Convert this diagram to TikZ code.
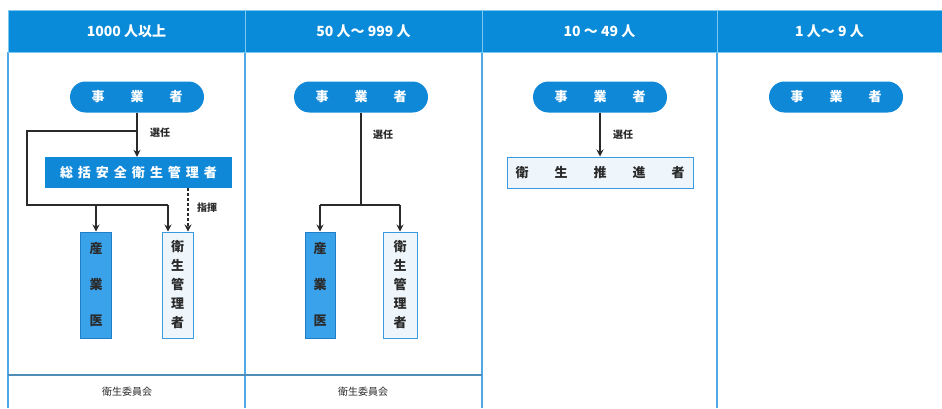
\documentclass[tikz,border=0pt]{standalone}
\usepackage{fontspec}
\newfontfamily\jp{Noto Sans CJK JP}
\usetikzlibrary{arrows.meta}
\definecolor{hdr}{HTML}{0A8BD9}
\definecolor{hdrline}{HTML}{7CC8F2}
\definecolor{colline}{HTML}{4FA9E6}
\definecolor{rowline}{HTML}{4E8DB8}
\definecolor{pillblue}{HTML}{1088D8}
\definecolor{docblue}{HTML}{3AA2EA}
\definecolor{docedge}{HTML}{1E7FC6}
\definecolor{palefill}{HTML}{EEF6FC}
\definecolor{paleedge}{HTML}{3A9AE0}
\definecolor{ink}{HTML}{2A2A2A}
\newcommand\gp{\hspace{26pt}}
\newcommand\hs{\hspace{5pt}}
\tikzset{
  hdrcell/.style={rectangle, fill=hdr, draw=hdrline, line width=0.8pt, minimum height=42pt, inner sep=0pt, text=white, font=\jp\fontsize{14}{16}\selectfont\bfseries},
  pill/.style={rectangle, rounded corners=15.5pt, fill=pillblue, minimum width=134pt, minimum height=31pt, inner sep=0pt, text=white, font=\jp\fontsize{13}{15}\selectfont\bfseries},
  bluebar/.style={rectangle, fill=pillblue, minimum height=31pt, inner sep=0pt, text=white, font=\jp\fontsize{13}{15}\selectfont\bfseries},
  palebar/.style={rectangle, fill=palefill, draw=paleedge, line width=1pt, minimum height=31pt, inner sep=0pt, text=ink, font=\jp\fontsize{13}{15}\selectfont\bfseries},
  docbox/.style={rectangle, fill=docblue, draw=docedge, line width=1pt, minimum width=31pt, minimum height=106pt, inner sep=0pt, text=ink, align=center, font=\jp\fontsize{13}{36}\selectfont\bfseries},
  mgrbox/.style={rectangle, fill=palefill, draw=paleedge, line width=1pt, minimum width=31pt, minimum height=106pt, inner sep=0pt, text=ink, align=center, font=\jp\fontsize{13}{19}\selectfont\bfseries},
  lbl/.style={text=ink, inner sep=0pt, font=\jp\fontsize{10}{12}\selectfont\bfseries},
  cmt/.style={text=ink, inner sep=0pt, font=\jp\fontsize{10}{12}\selectfont},
  conn/.style={draw=ink, line width=1.4pt},
  arr/.style={conn, -{Stealth[length=7pt,width=7pt]}},
  darr/.style={arr, dashed, dash pattern=on 3pt off 2pt},
  colsep/.style={draw=colline, line width=1.2pt}
}
\begin{document}
\begin{tikzpicture}[x=1pt,y=-1pt]
\useasboundingbox (0,0) rectangle (942,408);
\fill[white] (0,0) rectangle (942,408);

% column lines
\draw[colsep] (8,52) -- (8,408);
\draw[colsep] (245,52) -- (245,408);
\draw[colsep] (482,52) -- (482,408);
\draw[colsep] (717,52) -- (717,408);
\draw[draw=rowline, line width=1.2pt] (8,375) -- (482,375);

% header cells
\node[hdrcell, minimum width=237pt] (h1) at (126.5,31) {1000 人以上};
\node[hdrcell, minimum width=237pt] (h2) at (363.5,31) {50 人～ 999 人};
\node[hdrcell, minimum width=235pt] (h3) at (599.5,31) {10 ～ 49 人};
\node[hdrcell, minimum width=225pt] (h4) at (829.5,31) {1 人～ 9 人};

% pills
\node[pill] (p1) at (137,97) {事\gp 業\gp 者};
\node[pill] (p2) at (361,97) {事\gp 業\gp 者};
\node[pill] (p3) at (600,97) {事\gp 業\gp 者};
\node[pill] (p4) at (836,97) {事\gp 業\gp 者};

% column 1
\node[bluebar, minimum width=187pt] (sk) at (138.5,172.5) {総\hs 括\hs 安\hs 全\hs 衛\hs 生\hs 管\hs 理\hs 者};
\node[docbox] (d1) at (96,285) {産\\業\\医};
\node[mgrbox] (m1) at (177.5,285) {衛\\生\\管\\理\\者};
\coordinate (c1a) at (137,131);
\coordinate (c1b) at (27,131);
\coordinate (c1c) at (27,205);
\coordinate (c1d) at (168,205);
\coordinate (c1e) at (96,205);
\draw[arr] (p1.south) -- (sk.north -| p1.south);
\draw[conn] (c1a) -- (c1b) -- (c1c) -- (c1d);
\draw[arr] (c1d) -- (m1.north -| c1d);
\draw[arr] (c1e) -- (d1.north);
\draw[darr] (sk.south -| 188,0) -- (m1.north -| 188,0);
\node[lbl, anchor=west] (s1) at (150,133) {選任};
\node[lbl, anchor=west] (k1) at (197,208) {指揮};
\node[cmt] (e1) at (127,392) {衛生委員会};

% column 2
\node[docbox, minimum width=30pt] (d2) at (320,285) {産\\業\\医};
\node[mgrbox, minimum width=34pt] (m2) at (400,285) {衛\\生\\管\\理\\者};
\coordinate (c2a) at (361,205);
\coordinate (c2b) at (320,205);
\coordinate (c2c) at (400,205);
\draw[conn] (p2.south) -- (c2a);
\draw[conn] (c2b) -- (c2c);
\draw[arr] (c2b) -- (d2.north);
\draw[arr] (c2c) -- (m2.north);
\node[lbl, anchor=west] (s2) at (373,135) {選任};
\node[cmt] (e2) at (363,392) {衛生委員会};

% column 3
\node[palebar, minimum width=186pt] (sh) at (600,172.5) {衛\gp 生\gp 推\gp 進\gp 者};
\draw[arr] (p3.south) -- (sh.north);
\node[lbl, anchor=west] (s3) at (613,135) {選任};
\end{tikzpicture}
\end{document}
